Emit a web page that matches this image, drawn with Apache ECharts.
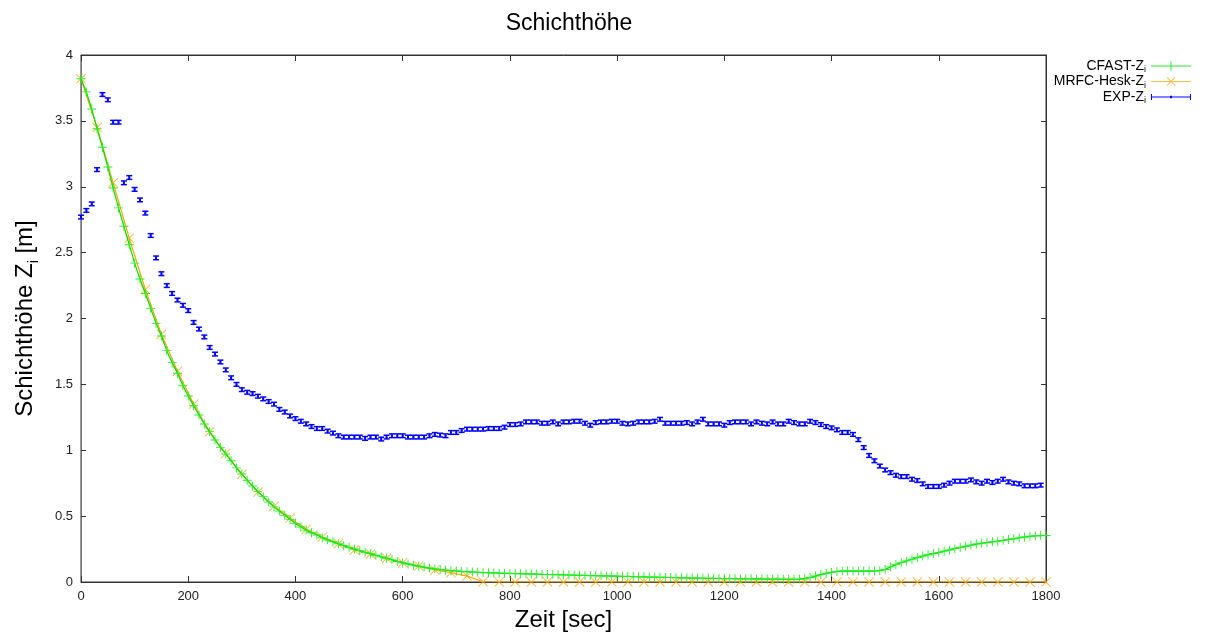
<!DOCTYPE html>
<html>
<head>
    <meta charset="utf-8">
    <title>Schichthöhe</title>
    <script src="https://cdn.jsdelivr.net/npm/echarts@6/dist/echarts.min.js"></script>
    <style>
        html, body { margin: 0; padding: 0; background: #fff; }
    </style>
</head>
<body>
    <div id="chart" style="width: 1206px;height: 632px;"></div>

<script>
    // Zeitschritte
    var cfastStep = 10, mrfcStep = 30, expStep = 10;

    // CFAST-Zi, alle 10 s
    var cfastZ = [
        3.82, 3.72, 3.59, 3.44, 3.30, 3.15, 2.99, 2.84, 2.70, 2.56,
        2.42, 2.30, 2.19, 2.077, 1.963, 1.867, 1.756, 1.665, 1.584, 1.49,
        1.412, 1.338, 1.268, 1.199, 1.141, 1.078, 1.022, 0.972, 0.92, 0.866,
        0.82, 0.772, 0.729, 0.686, 0.648, 0.607, 0.570, 0.538, 0.506, 0.475,
        0.445, 0.418, 0.394, 0.374, 0.357, 0.336, 0.32, 0.305, 0.29, 0.276,
        0.263, 0.25, 0.238, 0.226, 0.215, 0.203, 0.191, 0.18, 0.168, 0.156,
        0.145, 0.137, 0.128, 0.12, 0.113, 0.106, 0.10, 0.095, 0.09, 0.086,
        0.083, 0.08, 0.078, 0.076, 0.074, 0.072, 0.07, 0.069, 0.067, 0.066,
        0.065, 0.064, 0.063, 0.062, 0.061, 0.06, 0.058, 0.057, 0.056, 0.055,
        0.054, 0.053, 0.052, 0.051, 0.05, 0.049, 0.048, 0.047, 0.046, 0.045,
        0.044, 0.043, 0.042, 0.041, 0.04, 0.039, 0.038, 0.037, 0.036, 0.035,
        0.034, 0.033, 0.032, 0.031, 0.03, 0.029, 0.028, 0.028, 0.027, 0.027,
        0.026, 0.026, 0.025, 0.025, 0.024, 0.024, 0.023, 0.023, 0.022, 0.022,
        0.022, 0.021, 0.021, 0.021, 0.022, 0.025, 0.034, 0.045, 0.056, 0.066,
        0.074, 0.08, 0.083, 0.083, 0.083, 0.083, 0.083, 0.083, 0.084, 0.086,
        0.095, 0.115, 0.132, 0.147, 0.16, 0.173, 0.186, 0.197, 0.207, 0.216,
        0.225, 0.234, 0.243, 0.253, 0.262, 0.271, 0.28, 0.288, 0.294, 0.30,
        0.305, 0.31, 0.316, 0.322, 0.328, 0.335, 0.342, 0.347, 0.35, 0.352,
        0.353
    ];

    // MRFC-Hesk-Zi, alle 30 s
    var mrfcZ = [
        3.82, 3.45, 3.03, 2.61, 2.22, 1.88, 1.60, 1.35, 1.14, 0.975,
        0.818, 0.683, 0.575, 0.485, 0.40, 0.342, 0.29, 0.243, 0.212, 0.18,
        0.147, 0.121, 0.092, 0.071, 0.045, 0.002, 0, 0, 0, 0,
        0, 0, 0, 0, 0, 0, 0, 0, 0, 0,
        0, 0, 0, 0, 0, 0, 0, 0, 0, 0,
        0, 0, 0, 0, 0, 0, 0, 0, 0, 0,
        0
    ];

    // EXP-Zi, alle 10 s
    var expZ = [
        2.77, 2.82, 2.87, 3.13, 3.70, 3.66, 3.49, 3.49, 3.03, 3.07,
        2.98, 2.90, 2.80, 2.63, 2.46, 2.34, 2.25, 2.19, 2.14, 2.10,
        2.06, 1.97, 1.92, 1.86, 1.78, 1.73, 1.67, 1.61, 1.55, 1.50,
        1.46, 1.44, 1.43, 1.41, 1.39, 1.37, 1.35, 1.31, 1.29, 1.26,
        1.24, 1.22, 1.20, 1.18, 1.165, 1.165, 1.145, 1.13, 1.11, 1.10,
        1.10, 1.10, 1.10, 1.09, 1.10, 1.10, 1.085, 1.10, 1.11, 1.11,
        1.11, 1.10, 1.10, 1.10, 1.10, 1.11, 1.12, 1.115, 1.11, 1.135,
        1.135, 1.15, 1.16, 1.16, 1.16, 1.16, 1.165, 1.165, 1.165, 1.175,
        1.195, 1.195, 1.20, 1.215, 1.215, 1.215, 1.205, 1.205, 1.215, 1.20,
        1.215, 1.215, 1.22, 1.22, 1.205, 1.19, 1.21, 1.215, 1.215, 1.22,
        1.22, 1.205, 1.20, 1.205, 1.215, 1.215, 1.215, 1.22, 1.235, 1.205,
        1.205, 1.205, 1.205, 1.21, 1.20, 1.215, 1.235, 1.20, 1.20, 1.20,
        1.19, 1.21, 1.215, 1.215, 1.215, 1.20, 1.215, 1.205, 1.20, 1.215,
        1.20, 1.20, 1.22, 1.21, 1.20, 1.20, 1.22, 1.21, 1.195, 1.18,
        1.17, 1.155, 1.135, 1.135, 1.12, 1.08, 1.02, 0.96, 0.92, 0.88,
        0.85, 0.83, 0.81, 0.80, 0.80, 0.78, 0.77, 0.745, 0.725, 0.725,
        0.725, 0.735, 0.75, 0.765, 0.765, 0.765, 0.775, 0.76, 0.75, 0.765,
        0.755, 0.765, 0.78, 0.76, 0.75, 0.745, 0.73, 0.73, 0.73, 0.735
    ];
    var expErr = 0.014;

    var xTicks = { min: 0, max: 1800, interval: 200 };
    var yTicks = { min: 0, max: 4, interval: 0.5 };

    function pairs(vals, step) {
        return vals.map(function (v, i) { return [i * step, v]; });
    }

    var font = '"Liberation Sans", Arial, sans-serif';
    var axisColor = '#333';

    var plusPath = 'path://M0,4.5H10V5.5H0Z M4.5,0H5.5V10H4.5Z';
    var crossPath = 'path://M0,0.7L0.7,0L10,9.3L9.3,10Z M9.3,0L10,0.7L0.7,10L0,9.3Z';

    function plainNum(v) { return String(v); }

    var myChart = echarts.init(document.getElementById('chart'));

    var option = {
        backgroundColor: '#fff',
        animation: false,
        title: {
            text: 'Schichthöhe',
            left: 564,
            top: 7,
            textAlign: 'center',
            textStyle: { fontFamily: font, fontSize: 23, fontWeight: 'normal', color: '#000' }
        },
        legend: {
            orient: 'vertical',
            right: 10,
            top: 54,
            align: 'right',
            itemWidth: 40,
            itemHeight: 9,
            itemGap: 0,
            formatter: function (name) { return '{n|' + name + '}{s|i}'; },
            textStyle: {
                fontFamily: font,
                color: '#000',
                rich: {
                    n: { fontSize: 14, lineHeight: 17, fontFamily: font, color: '#000' },
                    s: { fontSize: 9, lineHeight: 9, verticalAlign: 'bottom', fontFamily: font, color: '#000' }
                }
            },
            data: [
                { name: 'CFAST-Z', icon: 'path://M0,4H40V5H0Z M19.5,0H20.5V9H19.5Z' },
                { name: 'MRFC-Hesk-Z', icon: 'path://M0,4H40V5H0Z M15.5,0.5L16.3,0L24.5,8.5L23.7,9Z M23.7,0L24.5,0.5L16.3,9L15.5,8.5Z' },
                { name: 'EXP-Z', icon: 'path://M0,4H40V5H0Z M0,1.5H1V7.5H0Z M39,1.5H40V7.5H39Z M19,3.3H21V5.7H19Z' }
            ]
        },
        grid: {
            left: 81, right: 160, top: 55, bottom: 50,
            outerBoundsMode: 'none',
            show: true,
            backgroundColor: 'transparent',
            borderColor: axisColor,
            borderWidth: 1
        },
        xAxis: [{
            type: 'value',
            min: xTicks.min, max: xTicks.max, interval: xTicks.interval,
            name: 'Zeit [sec]',
            nameLocation: 'middle',
            nameGap: 25,
            nameTextStyle: { fontFamily: font, fontSize: 24, color: '#000' },
            axisLine: { show: true, onZero: false, lineStyle: { color: axisColor, width: 1 } },
            axisTick: { show: true, inside: true, length: 6, lineStyle: { color: axisColor } },
            axisLabel: { fontFamily: font, fontSize: 13, color: '#222', margin: 8, formatter: plainNum },
            splitLine: { show: false }
        }, {
            type: 'value',
            position: 'top',
            min: xTicks.min, max: xTicks.max, interval: xTicks.interval,
            axisLine: { show: true, onZero: false, lineStyle: { color: axisColor, width: 1 } },
            axisTick: { show: true, inside: true, length: 6, lineStyle: { color: axisColor } },
            axisLabel: { show: false },
            splitLine: { show: false }
        }],
        yAxis: [{
            type: 'value',
            min: yTicks.min, max: yTicks.max, interval: yTicks.interval,
            name: '{m|Schichthöhe Z}{s|i}{m| [m]}',
            nameLocation: 'middle',
            nameRotate: 90,
            nameGap: 40,
            nameTextStyle: {
                fontFamily: font, fontSize: 24, color: '#000',
                rich: {
                    m: { fontSize: 24, lineHeight: 32, fontFamily: font, color: '#000' },
                    s: { fontSize: 14, lineHeight: 14, verticalAlign: 'bottom', fontFamily: font, color: '#000' }
                }
            },
            axisLine: { show: true, onZero: false, lineStyle: { color: '#777', width: 1 } },
            axisTick: { show: true, inside: true, length: 5, lineStyle: { color: axisColor } },
            axisLabel: { fontFamily: font, fontSize: 13, color: '#222', margin: 8, formatter: plainNum },
            splitLine: { show: false }
        }, {
            type: 'value',
            position: 'right',
            min: yTicks.min, max: yTicks.max, interval: yTicks.interval,
            axisLine: { show: true, onZero: false, lineStyle: { color: axisColor, width: 1 } },
            axisTick: { show: true, inside: true, length: 5, lineStyle: { color: axisColor } },
            axisLabel: { show: false },
            splitLine: { show: false }
        }],
        series: [{
            name: 'CFAST-Z',
            type: 'line',
            data: pairs(cfastZ, cfastStep),
            symbol: plusPath,
            symbolSize: 9,
            showAllSymbol: true,
            color: '#00e000',
            lineStyle: { width: 1.2, color: '#00e000' },
            itemStyle: { color: '#22ee22' },
            z: 3
        }, {
            name: 'MRFC-Hesk-Z',
            type: 'line',
            xAxisIndex: 1,
            yAxisIndex: 1,
            data: pairs(mrfcZ, mrfcStep),
            symbol: crossPath,
            symbolSize: 10,
            showAllSymbol: true,
            color: '#ffa500',
            lineStyle: { width: 1.2, color: '#ffa500' },
            itemStyle: { color: 'rgba(255,170,30,0.8)' },
            z: 2
        }, {
            name: 'EXP-Z',
            type: 'custom',
            color: '#0000ff',
            itemStyle: { color: '#0000ff' },
            data: expZ.map(function (v, i) { return [i * expStep, v, expErr]; }),
            encode: { x: 0, y: 1 },
            renderItem: function (params, api) {
                var t = api.value(0), v = api.value(1), e = api.value(2);
                var top = api.coord([t, v + e]);
                var bot = api.coord([t, v - e]);
                var mid = api.coord([t, v]);
                var style = { stroke: '#0000ff', lineWidth: 1.5 };
                return {
                    type: 'group',
                    children: [
                        { type: 'line', shape: { x1: top[0], y1: top[1], x2: bot[0], y2: bot[1] }, style: style },
                        { type: 'line', shape: { x1: top[0] - 3, y1: top[1], x2: top[0] + 3, y2: top[1] }, style: style },
                        { type: 'line', shape: { x1: bot[0] - 3, y1: bot[1], x2: bot[0] + 3, y2: bot[1] }, style: style },
                        { type: 'rect', shape: { x: mid[0] - 1, y: mid[1] - 1, width: 2, height: 2 }, style: { fill: '#0000ff' } }
                    ]
                };
            },
            z: 4
        }]
    };

    myChart.setOption(option);
</script>
</body>
</html>
